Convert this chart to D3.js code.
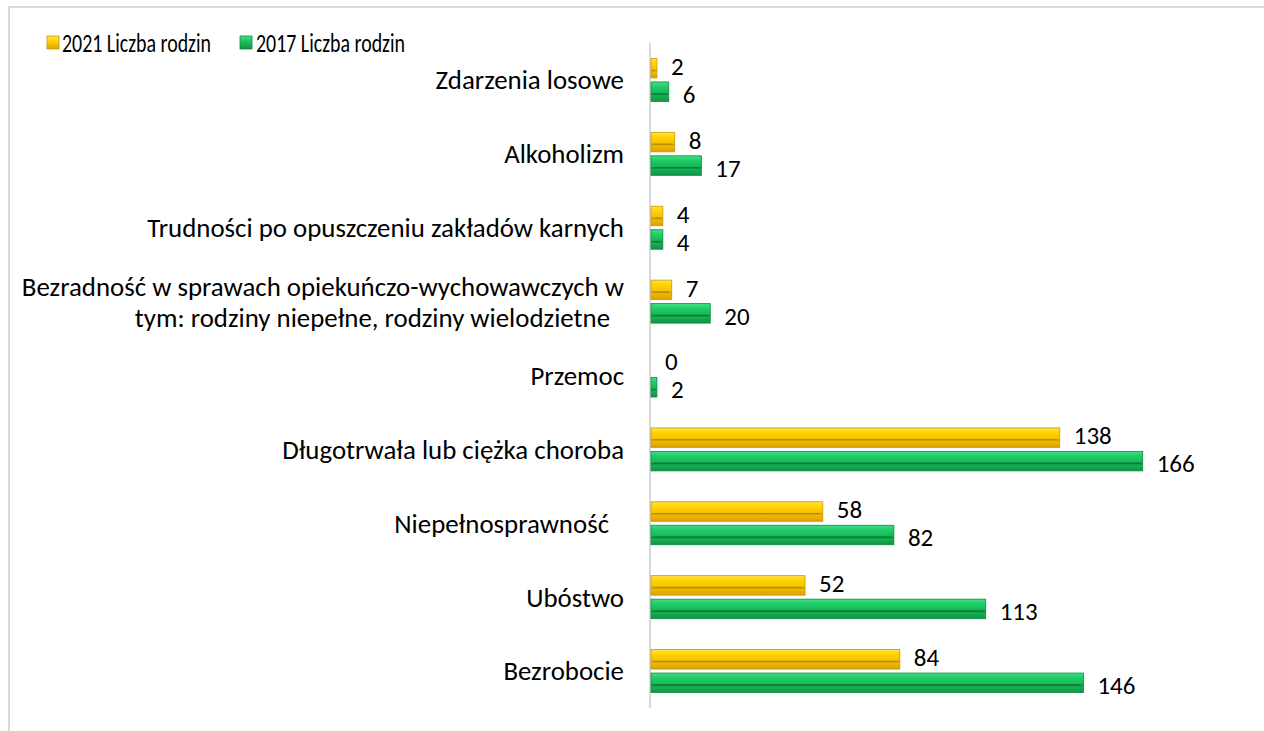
<!DOCTYPE html>
<html><head><meta charset="utf-8">
<script src="https://cdn.jsdelivr.net/npm/d3@7"></script>
<style>
html,body{margin:0;padding:0;background:#fff;}
svg text{font-family:Carlito,Calibri,Lato,sans-serif;fill:#000;}
</style></head>
<body><svg id="c" width="1264" height="731"></svg>
<script>
const categories = [
  "Zdarzenia losowe",
  "Alkoholizm",
  "Trudności po opuszczeniu zakładów karnych",
  "Bezradność w sprawach opiekuńczo-wychowawczych w|tym: rodziny niepełne, rodziny wielodzietne",
  "Przemoc",
  "Długotrwała lub ciężka choroba",
  "Niepełnosprawność",
  "Ubóstwo",
  "Bezrobocie"
];
const values2021 = [2, 8, 4, 7, 0, 138, 58, 52, 84];
const values2017 = [6, 17, 4, 20, 2, 166, 82, 113, 146];
const seriesNames = ["2021 Liczba rodzin", "2017 Liczba rodzin"];

const svg = d3.select("#c");
const defs = svg.append("defs");
function grad(id, stops){
  const g = defs.append("linearGradient").attr("id", id).attr("x1",0).attr("y1",0).attr("x2",0).attr("y2",1);
  stops.forEach(s => g.append("stop").attr("offset", s[0]).attr("stop-color", s[1]));
}
grad("gY", [[0,"#ffe14a"],[0.25,"#ffd400"],[0.55,"#f5c200"],[0.62,"#c99400"],[0.7,"#f0b800"],[1,"#d9a200"]]);
grad("gG", [[0,"#3fe084"],[0.25,"#1fcc66"],[0.55,"#17b857"],[0.62,"#0c7e38"],[0.7,"#16b054"],[1,"#0f9445"]]);
grad("lY", [[0,"#ffe14a"],[0.5,"#ffcc00"],[1,"#d9a200"]]);
grad("lG", [[0,"#3fe084"],[0.5,"#1db95a"],[1,"#0f9445"]]);
const fills = ["url(#gY)", "url(#gG)"];
const legFills = ["url(#lY)", "url(#lG)"];
const strokes = ["#c79a00", "#0d8a3e"];

// frame
svg.append("rect").attr("x",9).attr("y",7).attr("width",1264).attr("height",740)
  .attr("fill","none").attr("stroke","#d9d9d9").attr("stroke-width",2);

function fit(str, target){
  const p = svg.append("text").attr("font-size",20).text(str);
  const w = p.node().getComputedTextLength();
  p.remove();
  return 20 * target / w;
}
const fs = fit("Trudności po opuszczeniu zakładów karnych", 477);
const fsVal = fit("166", 38);

const x = d3.scaleLinear().domain([0, 180]).range([651, 651 + 180 * 2.962]);
const y = d3.scaleBand().domain(d3.range(categories.length)).range([43, 708]).paddingInner(0).paddingOuter(0);
const barH = 19.5, gap = 4;

// axis line
svg.append("line").attr("x1",650).attr("x2",650).attr("y1",43).attr("y2",708)
  .attr("stroke","#d9d9d9").attr("stroke-width",2);

// category labels
categories.forEach((c,i) => {
  const lines = c.split("|");
  const cy = y(i) + y.bandwidth()/2;
  if (lines.length === 1) {
    svg.append("text").attr("x", i === 6 ? 609 : 624).attr("y", cy).attr("dy","0.35em")
      .attr("text-anchor","end").attr("font-size", fs).text(lines[0]);
  } else {
    const t = svg.append("text").attr("text-anchor","end").attr("font-size", fs);
    t.append("tspan").attr("x",624).attr("y", cy - 15).attr("dy","0.35em").text(lines[0]);
    t.append("tspan").attr("x",610).attr("y", cy + 15.5).attr("dy","0.35em").text(lines[1]);
  }
});

// bars
[values2021, values2017].forEach((vals, s) => {
  const g = svg.append("g");
  vals.forEach((v, i) => {
    const cy = y(i) + y.bandwidth()/2;
    const top = s === 0 ? cy - gap/2 - barH : cy + gap/2;
    const w = x(v) - x(0);
    if (w > 0) {
      g.append("rect").attr("x", x(0)).attr("y", top).attr("width", w).attr("height", barH)
        .attr("fill", fills[s]).attr("stroke", strokes[s]).attr("stroke-width", 0.8);
      if (w > 8) {
        g.append("line").attr("x1", x(0) + 3).attr("x2", x(v) - 3)
          .attr("y1", top + barH*0.6).attr("y2", top + barH*0.6)
          .attr("stroke", s === 0 ? "#a07800" : "#0a6a30").attr("stroke-width", 1).attr("opacity",0.6);
      }
    }
    svg.append("text").attr("x", x(v) + 14).attr("y", top + barH/2 + (s===0 ? -2 : 2.5)).attr("dy","0.35em")
      .attr("font-size", fsVal).text(v);
  });
});

// legend
const lg = svg.append("g");
[[47, 62], [240, 256]].forEach((p, s) => {
  lg.append("rect").attr("x", p[0]).attr("y", 36).attr("width", 12).attr("height", 13)
    .attr("fill", legFills[s]).attr("stroke", strokes[s]).attr("stroke-width", 0.8);
  lg.append("text").attr("x", p[1]).attr("y", 43).attr("dy","0.35em").attr("font-size", fs)
    .attr("textLength", 149).attr("lengthAdjust","spacingAndGlyphs").text(seriesNames[s]);
});
</script></body></html>
